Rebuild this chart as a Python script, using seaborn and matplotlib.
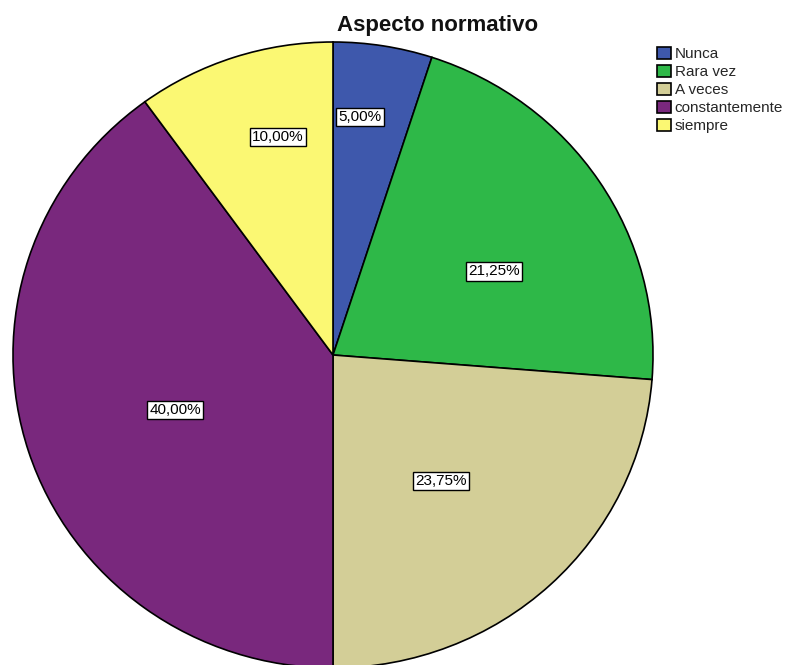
import matplotlib
matplotlib.use("Agg")
import matplotlib.pyplot as plt
import seaborn as sns
import numpy as np

categories = ["Nunca", "Rara vez", "A veces", "constantemente", "siempre"]
values = [5.00, 21.25, 23.75, 40.00, 10.00]
colors = ["#3E58AC", "#2EB848", "#D3CE97", "#79287D", "#FBF873"]
label_radius = [0.765, 0.57, 0.525, 0.524, 0.717]
label_angle_shift = [2.6, -5.8, -2.75, 1.6, -4.1]
title = "Aspecto normativo"

sns.set_theme(style="white")
plt.rcParams['font.family'] = ['Liberation Sans', 'DejaVu Sans']

W, H = 786, 665
fig = plt.figure(figsize=(W / 100, H / 100), dpi=100)
ax = fig.add_axes([0, 0, 1, 1])
ax.set_axis_off()

cx, cy, rx, ry = 333, 355, 320, 313
wedges, _ = ax.pie(values, colors=colors, startangle=90, counterclock=False,
                   wedgeprops=dict(edgecolor="black", linewidth=1.2),
                   radius=1, center=(0, 0), normalize=True)
ax.set_aspect('auto')
ax.set_xlim(-cx / rx, (W - cx) / rx)
ax.set_ylim(-(H - cy) / ry, cy / ry)

for w, v, r, s in zip(wedges, values, label_radius, label_angle_shift):
    ang = np.deg2rad((w.theta1 + w.theta2) / 2 + s)
    txt = f"{v:.2f}%".replace(".", ",")
    ax.text(r * np.cos(ang), r * np.sin(ang), txt, ha="center", va="center",
            fontsize=11, color="black",
            bbox=dict(boxstyle="square,pad=0.15", facecolor="white",
                      edgecolor="black", linewidth=1))

fig.text(438 / W, 1 - 25 / H, title, ha="center", va="center",
         fontsize=16, fontweight="bold", color="#111111")

leg = fig.legend(wedges, categories, loc="upper left",
                 bbox_to_anchor=(657 / W, 1 - 47 / H), frameon=False,
                 fontsize=11, handlelength=0.9, handleheight=0.8,
                 handletextpad=0.25, labelspacing=0.25, borderaxespad=0,
                 borderpad=0)

fig.savefig("out.png", dpi=100)
